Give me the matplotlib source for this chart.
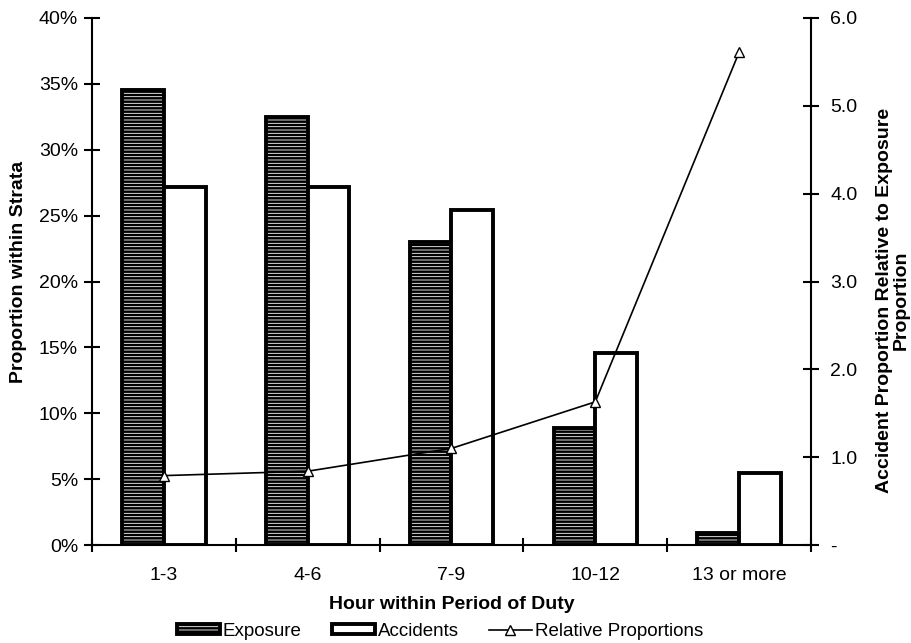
import matplotlib
matplotlib.use("Agg")
import matplotlib.pyplot as plt
from matplotlib.ticker import FuncFormatter
from matplotlib.patches import Patch
from matplotlib.lines import Line2D
import numpy as np

categories = ["1-3", "4-6", "7-9", "10-12", "13 or more"]
exposure = [34.5, 32.5, 23.0, 8.9, 0.9]
accidents = [27.2, 27.2, 25.4, 14.6, 5.5]
relative = [0.79, 0.84, 1.10, 1.63, 5.61]

plt.rcParams['font.family'] = ['Liberation Sans', 'DejaVu Sans']
plt.rcParams['hatch.linewidth'] = 1.8
plt.rcParams['hatch.color'] = 'black'

FS = 14
LFS = 13.5

fig = plt.figure(figsize=(9.12, 6.43), dpi=100)
ax = fig.add_axes([92/912, 1-545/643, (811-92)/912, (545-18)/643])
ax2 = ax.twinx()

x = np.arange(len(categories))
w = 0.29
ax.bar(x - w/2, exposure, w, facecolor='white', edgecolor='black', linewidth=2.8, hatch='-----', zorder=2)
ax.bar(x + w/2, accidents, w, facecolor='white', edgecolor='black', linewidth=2.8, zorder=2)

ax.set_xlim(-0.5, len(categories) - 0.5)
ax.set_ylim(0, 40)
ax.set_yticks(np.arange(0, 41, 5))
ax.yaxis.set_major_formatter(FuncFormatter(lambda v, p: f"{int(v)}%"))
ax.set_xticks(x)
ax.set_xticklabels(categories)
ax.set_xticks(np.arange(-0.5, len(categories), 1), minor=True)
ax.tick_params(axis='x', which='major', length=0, pad=16, labelsize=FS)
ax.tick_params(axis='x', which='minor', direction='inout', length=10, width=1.5)
ax.tick_params(axis='y', direction='inout', length=12, width=1.5, labelsize=FS, pad=4)

ax2.plot(x, relative, color='black', linewidth=1.2, marker='^', markersize=7,
         markerfacecolor='white', markeredgecolor='black', markeredgewidth=1.0, zorder=3)
ax2.set_ylim(0, 6)
ax2.set_yticks(np.arange(0, 7, 1))
ax2.yaxis.set_major_formatter(FuncFormatter(lambda v, p: "-" if v == 0 else f"{v:.1f}"))
ax2.tick_params(axis='y', direction='inout', length=12, width=1.5, labelsize=FS, pad=8)

for a in (ax, ax2):
    a.spines['top'].set_visible(False)
    for s in ('left', 'right', 'bottom'):
        a.spines[s].set_linewidth(1.5)
ax.spines['right'].set_visible(False)
ax2.spines['left'].set_visible(False)
ax2.spines['bottom'].set_visible(False)

ax.set_ylabel("Proportion within Strata", fontsize=FS, fontweight='bold')
ax.yaxis.set_label_coords((27 - 92) / 719, (545 - 272) / 527)
ax2.set_ylabel("Accident Proportion Relative to Exposure\nProportion", fontsize=FS,
               fontweight='bold', linespacing=1.0)
ax2.yaxis.label.set_verticalalignment('center')
ax2.yaxis.set_label_coords((893 - 92) / 719, (545 - 300) / 527)
ax.set_xlabel("Hour within Period of Duty", fontsize=FS, fontweight='bold')
ax.xaxis.set_label_coords(0.5, -(596 - 545) / 527)

handles = [
    Patch(facecolor='white', edgecolor='black', linewidth=2.8, hatch='-----'),
    Patch(facecolor='white', edgecolor='black', linewidth=2.8),
    Line2D([0], [0], color='black', linewidth=1.2, marker='^', markersize=7,
           markerfacecolor='white', markeredgecolor='black'),
]
fig.legend(handles, ["Exposure", "Accidents", "Relative Proportions"], loc='center',
           bbox_to_anchor=(440/912, 1-631/643), ncol=3, frameon=False, fontsize=LFS,
           handlelength=2.3, handleheight=0.5, handletextpad=0.15, columnspacing=1.6,
           borderpad=0.1)

fig.savefig("out.png", dpi=100)
